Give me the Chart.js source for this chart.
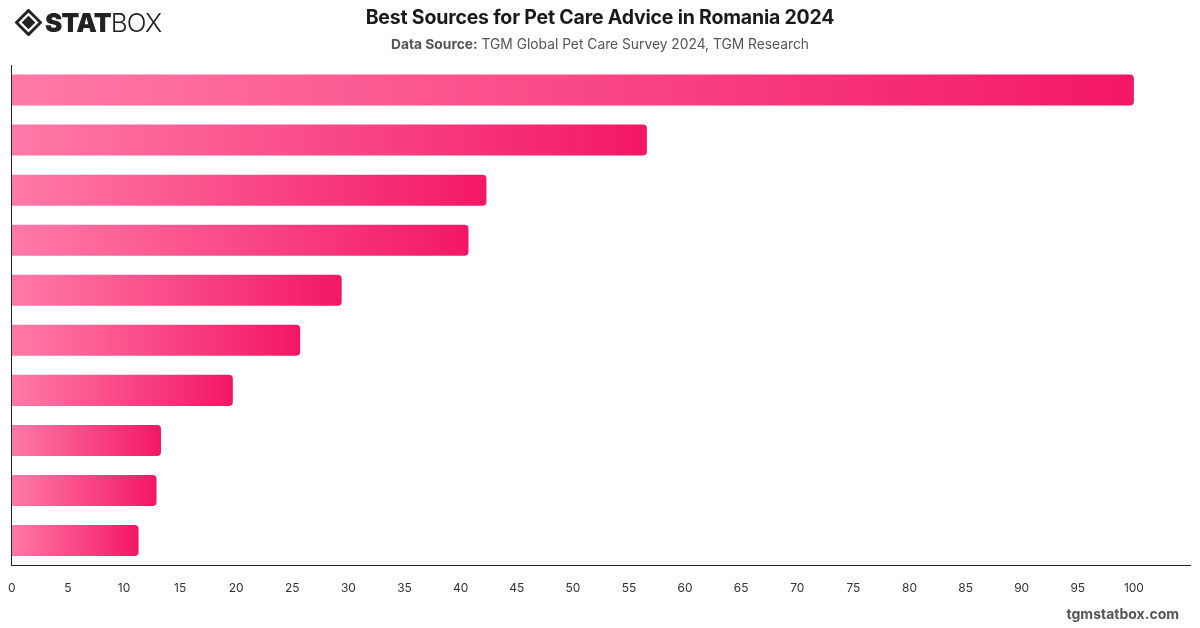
<!DOCTYPE html>
<html><head><meta charset="utf-8">
<script src="https://cdn.jsdelivr.net/npm/chart.js@4.4.0/dist/chart.umd.min.js"></script>
<style>
html,body{margin:0;padding:0;background:#fff;width:1200px;height:628px;overflow:hidden;font-family:Inter,"Noto Sans",sans-serif;}
#wrap{position:absolute;left:0;top:0;width:1200px;height:628px;}
#title{position:absolute;top:5px;left:0;width:1200px;text-align:center;font-size:19.5px;font-weight:700;color:#1a1a1a;letter-spacing:-0.2px;}
#sub{position:absolute;top:36px;left:0;width:1200px;text-align:center;font-size:13.8px;color:#555;}
#sub b{color:#555;font-weight:700;}
#foot{position:absolute;right:21px;top:605px;font-size:14px;font-weight:700;color:#555;}
#logo{position:absolute;left:15px;top:8px;height:28px;display:flex;align-items:center;}
#logo .s{font-family:Inter,sans-serif;font-weight:900;font-size:26px;color:#222;letter-spacing:-0.8px;margin-left:3px;}
#logo .b{font-family:Inter,sans-serif;font-weight:300;font-size:26px;color:#222;letter-spacing:-0.8px;}
</style></head>
<body>
<div id="wrap">
<canvas id="c" width="1200" height="628"></canvas>
</div>
<div id="logo">
<svg width="27" height="27" viewBox="0 0 28 28"><path d="M14 1.5 L26.5 14 L14 26.5 L1.5 14 Z" fill="none" stroke="#222" stroke-width="3"/><path d="M14 7 L21 14 L14 21 L7 14 Z" fill="#222"/></svg>
<span class="s">STAT</span><span class="b">BOX</span>
</div>
<div id="title">Best Sources for Pet Care Advice in Romania 2024</div>
<div id="sub"><b>Data Source:</b> TGM Global Pet Care Survey 2024, TGM Research</div>
<div id="foot">tgmstatbox.com</div>
<script>
const categories = ["Source 1","Source 2","Source 3","Source 4","Source 5","Source 6","Source 7","Source 8","Source 9","Source 10"];
const values = [100, 56.6, 42.3, 40.7, 29.4, 25.7, 19.7, 13.3, 12.9, 11.3];
const xTicks = [0,5,10,15,20,25,30,35,40,45,50,55,60,65,70,75,80,85,90,95,100];

function barGradient(ctx){
  const chart = ctx.chart;
  const area = chart.chartArea;
  if(!area || ctx.dataIndex===undefined) return '#f31766';
  const xs = chart.scales.x;
  const x0 = xs.getPixelForValue(0);
  const x1 = xs.getPixelForValue(values[ctx.dataIndex]);
  const g = chart.ctx.createLinearGradient(x0,0,Math.max(x1,x0+1),0);
  g.addColorStop(0,'#ff7aa8');
  g.addColorStop(1,'#f31766');
  return g;
}

new Chart(document.getElementById('c'),{
  type:'bar',
  data:{labels:categories,datasets:[{data:values,backgroundColor:barGradient,borderRadius:{topRight:4,bottomRight:4,topLeft:0,bottomLeft:0},borderSkipped:false,barPercentage:0.62,categoryPercentage:1}]},
  options:{
    indexAxis:'y',responsive:false,animation:false,
    layout:{padding:{left:3,right:10,top:65,bottom:24}},
    plugins:{legend:{display:false},tooltip:{enabled:false}},
    scales:{
      x:{min:0,max:105,grid:{display:false},border:{display:true,color:'#222',width:1},
        afterBuildTicks:(a)=>{a.ticks=xTicks.map(v=>({value:v}));},
        ticks:{color:'#333',font:{family:'Inter',size:12},padding:8,maxRotation:0}},
      y:{grid:{display:false},border:{display:true,color:'#222',width:1},ticks:{display:false}}
    }
  }
});
</script>
</body></html>
